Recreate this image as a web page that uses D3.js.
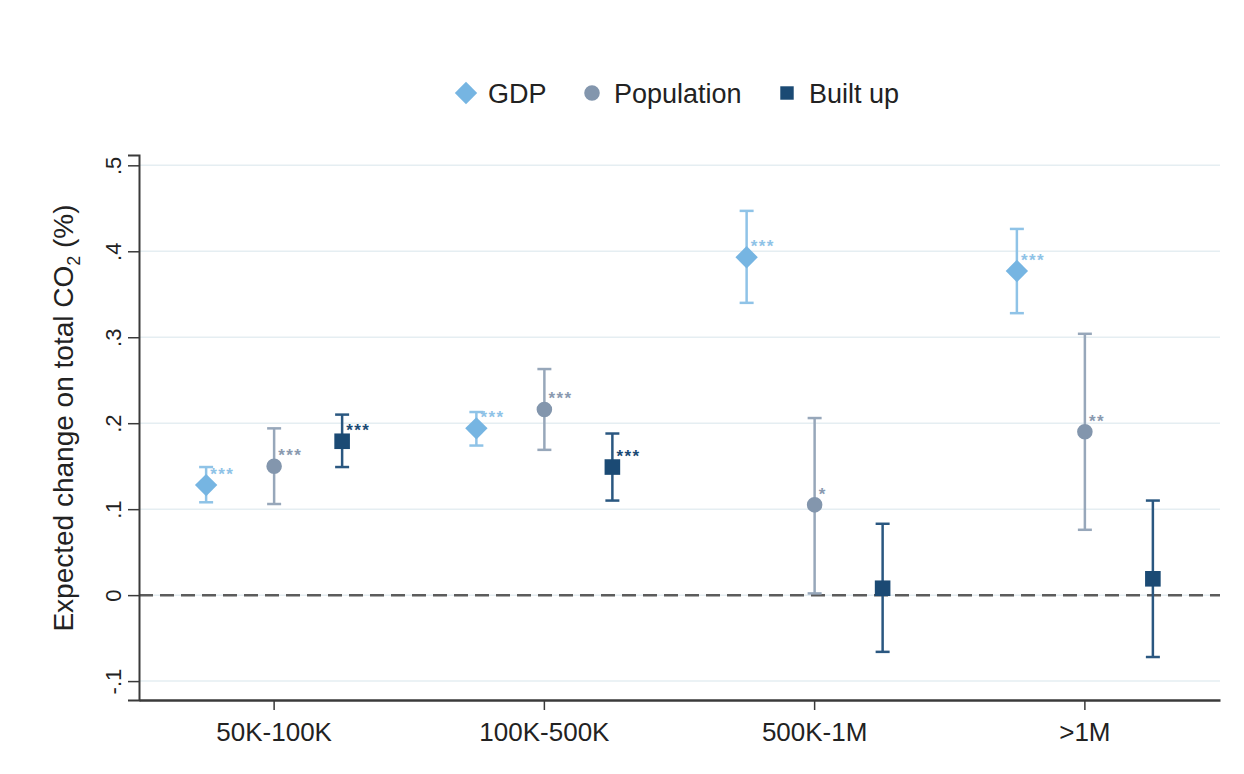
<!DOCTYPE html>
<html>
<head>
<meta charset="utf-8">
<script src="https://cdn.jsdelivr.net/npm/d3@7"></script>
<style>
  body { margin: 0; background: #fff; }
  svg text { font-family: "Liberation Sans", Arial, sans-serif; }
</style>
</head>
<body>
<svg id="chart" width="1244" height="774"></svg>
<script>
// city size classes on the x axis
var categories = ["50K-100K", "100K-500K", "500K-1M", ">1M"];
var seriesNames = ["GDP", "Population", "Built up"];

// point estimates, lower and upper bounds of the confidence interval, per category
var gdpValues = [0.128, 0.194, 0.393, 0.377];
var gdpLow    = [0.108, 0.174, 0.340, 0.328];
var gdpHigh   = [0.149, 0.213, 0.447, 0.426];
var gdpStars  = ["***", "***", "***", "***"];

var popValues = [0.150, 0.216, 0.105, 0.190];
var popLow    = [0.106, 0.169, 0.002, 0.076];
var popHigh   = [0.194, 0.263, 0.206, 0.304];
var popStars  = ["***", "***", "*", "**"];

var builtValues = [0.179, 0.149, 0.008, 0.019];
var builtLow    = [0.149, 0.110, -0.066, -0.072];
var builtHigh   = [0.210, 0.188, 0.083, 0.110];
var builtStars  = ["***", "***", "", ""];

var yTicks = [-0.1, 0, 0.1, 0.2, 0.3, 0.4, 0.5];
var yTickLabels = ["-.1", "0", ".1", ".2", ".3", ".4", ".5"];

var svg = d3.select("#chart");
var margin = {left: 139, right: 1220, top: 155, bottom: 700};

var x = d3.scaleBand().domain(categories).range([margin.left, margin.right]);
var offset = d3.scalePoint().domain(seriesNames).range([-68, 68]);
var y = d3.scaleLinear().domain([-0.122, 0.512]).range([margin.bottom, margin.top]);

var series = [
    {name: "GDP", values: gdpValues, low: gdpLow, high: gdpHigh, stars: gdpStars,
     color: "#76b5e2", bar: "#8fc3e7", starColor: "#8fc3e7", symbol: d3.symbolDiamond2, size: 320},
    {name: "Population", values: popValues, low: popLow, high: popHigh, stars: popStars,
     color: "#8396ad", bar: "#97a7ba", starColor: "#8a9ab0", symbol: d3.symbolCircle, size: 190},
    {name: "Built up", values: builtValues, low: builtLow, high: builtHigh, stars: builtStars,
     color: "#1b4a74", bar: "#2a5780", starColor: "#1b4a74", symbol: d3.symbolSquare2, size: 310}
];

// grid lines
svg.append("g").selectAll("line").data(yTicks).enter().append("line")
    .attr("x1", margin.left).attr("x2", margin.right)
    .attr("y1", function (d) { return y(d); }).attr("y2", function (d) { return y(d); })
    .attr("stroke", "#e5eef2").attr("stroke-width", 1.5);

// reference line at zero
svg.append("line")
    .attr("x1", margin.left).attr("x2", margin.right)
    .attr("y1", y(0)).attr("y2", y(0))
    .attr("stroke", "#5c5c5c").attr("stroke-width", 2.5)
    .attr("stroke-dasharray", "14,7");

// y axis
var yAxis = svg.append("g")
    .attr("transform", "translate(" + margin.left + ",0)")
    .call(d3.axisLeft(y).tickValues(yTicks).tickSize(11).tickPadding(0)
        .tickFormat(function (d, i) { return yTickLabels[i]; }));
yAxis.select(".domain").attr("stroke", "#3a3a3a").attr("stroke-width", 2);
yAxis.selectAll(".tick line").attr("stroke", "#3a3a3a").attr("stroke-width", 1.5);
yAxis.selectAll(".tick text")
    .attr("x", null).attr("dy", null)
    .attr("text-anchor", "middle")
    .attr("transform", "translate(-26,0) rotate(-90) translate(0,8)")
    .attr("font-size", 22).attr("fill", "#222");

// x axis
var xAxis = svg.append("g")
    .attr("transform", "translate(0," + margin.bottom + ")")
    .call(d3.axisBottom(x).tickSize(10).tickPadding(9).tickSizeOuter(0));
xAxis.select(".domain").attr("stroke", "#3a3a3a").attr("stroke-width", 2.5);
xAxis.selectAll(".tick line").attr("stroke", "#3a3a3a").attr("stroke-width", 1.5);
xAxis.selectAll(".tick text").attr("font-size", 26).attr("fill", "#222").attr("dy", "0.85em");

// y axis title
var title = svg.append("text")
    .attr("transform", "translate(73,418) rotate(-90)")
    .attr("text-anchor", "middle")
    .attr("font-size", 28).attr("fill", "#222");
title.append("tspan").text("Expected change on total CO");
title.append("tspan").text("2").attr("font-size", 18).attr("dy", 7);
title.append("tspan").text(" (%)").attr("dy", -7);

// estimates with confidence intervals
series.forEach(function (s) {
    var g = svg.append("g");
    var rows = categories.map(function (c, i) {
        return {cx: x(c) + x.bandwidth() / 2 + offset(s.name), v: s.values[i],
                lo: s.low[i], hi: s.high[i], star: s.stars[i]};
    });
    g.selectAll("line.ci").data(rows).enter().append("line")
        .attr("x1", function (d) { return d.cx; }).attr("x2", function (d) { return d.cx; })
        .attr("y1", function (d) { return y(d.lo); }).attr("y2", function (d) { return y(d.hi); })
        .attr("stroke", s.bar).attr("stroke-width", 2.5);
    ["lo", "hi"].forEach(function (k) {
        g.selectAll("line.cap" + k).data(rows).enter().append("line")
            .attr("x1", function (d) { return d.cx - 7; }).attr("x2", function (d) { return d.cx + 7; })
            .attr("y1", function (d) { return y(d[k]); }).attr("y2", function (d) { return y(d[k]); })
            .attr("stroke", s.bar).attr("stroke-width", 2.5);
    });
    g.selectAll("path").data(rows).enter().append("path")
        .attr("d", d3.symbol().type(s.symbol).size(s.size))
        .attr("transform", function (d) { return "translate(" + d.cx + "," + y(d.v) + ")"; })
        .attr("fill", s.color);
    g.selectAll("text").data(rows).enter().append("text")
        .attr("x", function (d) { return d.cx + 4; })
        .attr("y", function (d) { return y(d.v) - 5; })
        .attr("font-size", 17).attr("font-weight", "bold")
        .attr("letter-spacing", 1.5)
        .attr("fill", s.starColor)
        .text(function (d) { return d.star; });
});

// legend
var legendX = [466, 592, 787];
var legend = svg.append("g").selectAll("g").data(series).enter().append("g")
    .attr("transform", function (d, i) { return "translate(" + legendX[i] + ",93)"; });
legend.append("path")
    .attr("d", function (d) { return d3.symbol().type(d.symbol).size(d.name === "Built up" ? 230 : d.size)(); })
    .attr("fill", function (d) { return d.color; });
legend.append("text")
    .attr("x", 22).attr("dy", "0.36em")
    .attr("font-size", 27).attr("fill", "#222")
    .text(function (d) { return d.name; });
</script>
</body>
</html>
